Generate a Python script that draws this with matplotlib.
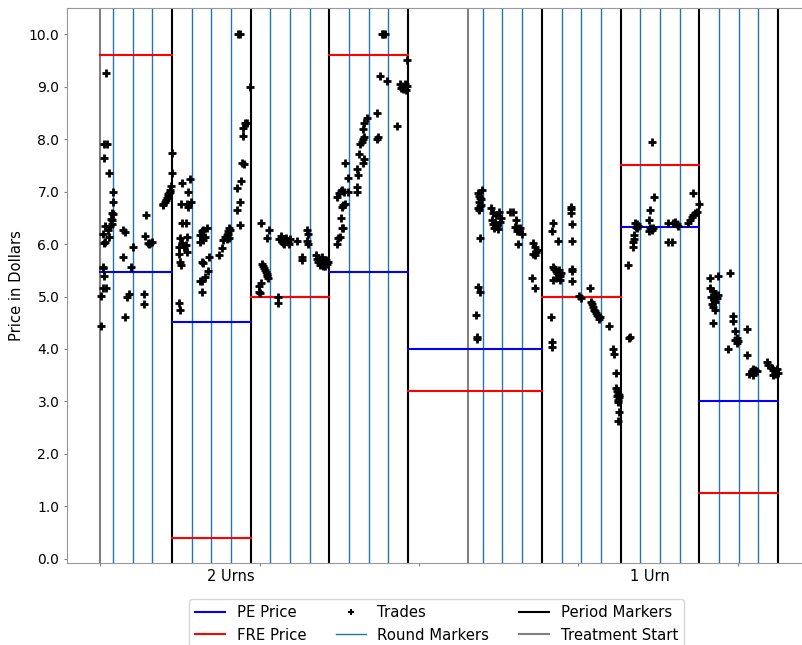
import matplotlib
matplotlib.use("Agg")
import matplotlib.pyplot as plt
from matplotlib.lines import Line2D
from matplotlib.ticker import FormatStrFormatter


### Data (x is in "round" units)

period_starts = [0.34, 4, 8, 12, 16, 22.8, 26.8, 30.8]
period_ends   = [4, 8, 12, 16, 22.8, 26.8, 30.8, 34.8]
pe_price      = [5.47, 4.52, 5.0, 5.47, 4.0, 5.0, 6.33, 3.0]
fre_price     = [9.6, 0.4, 5.0, 9.6, 3.2, 5.0, 7.5, 1.25]

period_markers = [4, 8, 12, 16, 22.8, 26.8, 30.8, 34.8]
round_markers = [1, 2, 3, 5, 6, 7, 9, 10, 11, 13, 14, 15,
                 19.8, 20.8, 21.8, 23.8, 24.8, 25.8, 27.8, 28.8, 29.8, 31.8, 32.8, 33.8]
treatment_starts = [0.34, 19.05]
treatment_names = ["2 Urns", "1 Urn"]
treatment_label_x = [7.0, 28.3]
tick_x = [0.34, 8.45, 16.55, 24.65, 32.75]

trade_x = [
    # period 1
    [0.65, 0.54, 0.68, 0.56, 0.78, 0.99, 0.99, 0.97, 1.02, 0.9, 0.94, 0.61, 0.85, 0.94,
     0.48, 0.76, 0.81, 0.59, 0.54, 0.48, 0.51, 0.54, 0.51, 0.65, 0.41, 0.38,
     1.49, 1.61, 2.0, 1.49, 1.9, 1.7, 1.83, 1.63,
     2.69, 2.64, 2.77, 2.83, 2.9, 2.97, 2.56, 2.56,
     3.54, 3.56, 3.65, 3.7, 3.75, 3.78, 3.81, 3.85, 3.88, 3.91, 3.95, 4.0, 4.0],
    # period 2
    [4.49, 4.92, 4.83, 4.97, 4.46, 4.75, 4.83, 4.49, 4.71, 4.41, 4.78, 4.49, 4.71,
     4.37, 4.61, 4.36, 4.78, 4.41, 4.44, 4.36, 4.41,
     5.58, 5.77, 5.51, 5.42, 5.68, 5.42, 5.59, 5.88, 5.51, 5.59, 5.82, 5.68, 5.51, 5.42, 5.51,
     6.41, 6.54, 6.61, 6.7, 6.78, 6.86, 6.91, 6.8, 6.85, 6.95, 6.9,
     7.29, 7.46, 7.32, 7.49, 7.54, 7.66, 7.6, 7.63, 7.71, 7.83, 7.37, 7.46, 7.97, 7.46],
    # period 3
    [8.54, 8.95, 8.85, 8.56, 8.63, 8.68, 8.73, 8.77, 8.82, 8.85, 8.9, 8.53, 8.42, 8.42, 8.47,
     9.41, 9.41, 9.45, 9.55, 9.6, 9.7, 9.75, 9.8, 9.9, 9.95, 10.0, 9.65,
     10.37, 10.6, 10.6, 10.85, 10.93, 10.85, 10.93,
     11.3, 11.35, 11.4, 11.5, 11.55, 11.6, 11.65, 11.7, 11.75, 11.8, 11.85, 11.9, 11.95,
     11.65, 11.5],
    # period 4
    [12.4, 12.46, 12.54, 12.64, 12.68, 12.58, 12.66, 12.71, 12.8, 12.4, 12.51, 12.58, 12.63,
     12.75, 12.96, 12.96, 12.8,
     13.39, 13.39, 13.47, 13.39, 13.73, 13.78, 13.52, 13.56, 13.65, 13.73, 13.78, 13.7, 13.76, 13.9,
     14.41, 14.44, 14.49, 14.58, 14.66, 14.74, 14.83, 14.95,
     15.42, 15.59, 15.64, 15.7, 15.75, 15.8, 15.85, 15.9, 15.95, 15.96],
    # period 5
    [19.55, 19.6, 19.65, 19.7, 19.6, 19.7, 19.65, 19.55, 19.6, 19.75,
     19.66, 19.57, 19.66, 19.44, 19.49, 19.5,
     20.2, 20.3, 20.45, 20.6, 20.7, 20.25, 20.4, 20.5, 20.35, 20.55, 20.65, 20.3,
     21.18, 21.32, 21.49, 21.44, 21.52, 21.6, 21.65, 21.55, 21.7, 21.78, 21.61,
     22.35, 22.45, 22.56, 22.35, 22.45, 22.5, 22.29, 22.46],
    # period 6
    [23.36, 23.3, 23.6, 23.35, 23.4, 23.5, 23.55, 23.65, 23.7, 23.75, 23.35, 23.7, 23.5,
     23.25, 23.3, 23.3,
     24.27, 24.27, 24.27, 24.32, 24.32, 24.32, 24.32, 24.32, 24.71, 24.78,
     25.24, 25.3, 25.35, 25.4, 25.45, 25.5, 25.55, 25.6, 25.65, 25.7, 25.75,
     26.23, 26.44, 26.47, 26.57, 26.57, 26.62, 26.65, 26.6, 26.7, 26.65, 26.72, 26.68,
     26.73, 26.65],
    # period 7
    [27.19, 27.44, 27.45, 27.48, 27.48, 27.54, 27.63, 27.59, 27.66, 27.71, 27.24, 27.28,
     28.39, 28.52, 28.3, 28.24, 28.3, 28.39, 28.45, 28.25,
     29.2, 29.49, 29.57, 29.66, 29.74, 29.23, 29.4,
     30.23, 30.34, 30.42, 30.5, 30.59, 30.68, 30.81, 30.47],
    # period 8
    [31.35, 31.77, 31.35, 31.5, 31.6, 31.4, 31.55, 31.7, 31.75, 31.6, 31.45, 31.5, 31.6, 31.52,
     32.37, 32.54, 32.54, 32.62, 32.71, 32.62, 32.78, 32.71, 32.28,
     33.22, 33.22, 33.34, 33.47, 33.55, 33.64, 33.72, 33.55,
     34.23, 34.32, 34.49, 34.57, 34.66, 34.74, 34.82, 34.66, 34.57],
]

trade_y = [
    # period 1
    [9.26, 7.9, 7.9, 7.65, 7.35, 7.0, 6.8, 6.6, 6.58, 6.48, 6.45, 6.35, 6.35, 6.38,
     6.2, 6.27, 6.13, 6.04, 6.02, 5.56, 5.54, 5.39, 5.16, 5.16, 5.01, 4.44,
     6.27, 6.23, 5.95, 5.75, 5.57, 5.0, 5.05, 4.6,
     6.55, 6.15, 6.02, 6.0, 6.02, 6.04, 5.05, 4.85,
     6.75, 6.76, 6.8, 6.84, 6.88, 6.92, 6.95, 6.98, 7.0, 7.04, 7.1, 7.35, 7.74],
    # period 2
    [7.16, 7.24, 7.0, 6.8, 6.76, 6.76, 6.71, 6.41, 6.41, 6.11, 6.14, 6.02, 5.98,
     5.95, 5.95, 5.81, 5.85, 5.66, 5.6, 4.87, 4.74,
     6.27, 6.3, 6.25, 6.17, 6.13, 6.04, 6.08, 5.75, 5.65, 5.64, 5.49, 5.38, 5.3, 5.3, 5.09,
     5.79, 5.92, 6.08, 6.13, 6.18, 6.25, 6.3, 6.1, 6.2, 6.27, 6.12,
     6.65, 6.8, 7.06, 7.2, 7.55, 7.52, 8.06, 8.21, 8.3, 8.31, 10.0, 10.0, 9.0, 6.36],
    # period 3
    [6.41, 6.27, 6.11, 5.62, 5.58, 5.55, 5.5, 5.47, 5.43, 5.4, 5.36, 5.26, 5.2, 5.09, 5.07,
     5.0, 4.88, 6.1, 6.15, 6.05, 6.0, 6.08, 6.12, 6.03, 6.0, 6.1, 6.02,
     6.06, 5.76, 5.7, 6.27, 6.2, 6.05, 6.0,
     5.8, 5.72, 5.65, 5.7, 5.62, 5.75, 5.68, 5.6, 5.65, 5.58, 5.7, 5.62, 5.66,
     5.58, 5.6],
    # period 4
    [6.0, 6.12, 6.14, 6.3, 6.3, 6.5, 6.7, 6.74, 6.76, 6.9, 6.98, 7.02, 7.04,
     7.0, 7.0, 7.25, 7.55,
     7.0, 7.09, 7.31, 7.44, 7.54, 7.63, 7.71, 7.9, 7.95, 8.0, 8.04, 8.2, 8.3, 8.4,
     8.49, 8.0, 8.05, 9.2, 10.0, 10.0, 10.0, 9.11,
     8.25, 9.05, 8.98, 9.02, 8.95, 9.0, 9.05, 8.93, 9.02, 9.5],
    # period 5
    [6.98, 6.92, 6.88, 6.85, 6.8, 6.75, 6.72, 6.68, 6.65, 7.03,
     6.11, 5.19, 5.09, 4.65, 4.19, 4.22,
     6.68, 6.6, 6.55, 6.62, 6.5, 6.45, 6.4, 6.35, 6.3, 6.28, 6.42, 6.38,
     6.62, 6.62, 6.46, 6.33, 6.3, 6.28, 6.25, 6.24, 6.3, 6.2, 6.0,
     6.02, 5.95, 5.88, 5.82, 5.8, 5.85, 5.35, 5.16],
    # period 6
    [6.41, 6.25, 6.05, 5.56, 5.52, 5.48, 5.44, 5.5, 5.4, 5.45, 5.31, 5.31, 5.36,
     4.6, 4.14, 4.04,
     6.71, 6.66, 6.6, 6.39, 6.06, 5.52, 5.49, 5.3, 5.01, 4.97,
     5.16, 4.9, 4.85, 4.8, 4.75, 4.72, 4.68, 4.65, 4.62, 4.58, 4.6,
     4.44, 3.99, 3.9, 3.55, 3.25, 3.2, 3.15, 3.1, 3.08, 3.02, 3.12, 2.98,
     2.79, 2.63],
    # period 7
    [5.6, 5.95, 6.03, 6.1, 6.17, 6.4, 6.38, 6.33, 6.3, 6.35, 4.2, 4.22,
     7.95, 6.9, 6.65, 6.46, 6.3, 6.27, 6.3, 6.25,
     6.4, 6.4, 6.42, 6.38, 6.35, 6.04, 6.04,
     6.4, 6.45, 6.52, 6.55, 6.59, 6.62, 6.76, 6.97],
    # period 8
    [5.35, 5.39, 5.16, 5.1, 5.05, 5.0, 4.95, 4.98, 5.02, 4.9, 4.85, 4.8, 4.75, 4.5,
     5.45, 4.62, 4.54, 4.34, 4.21, 4.18, 4.15, 4.12, 3.99,
     4.39, 3.89, 3.52, 3.58, 3.62, 3.6, 3.58, 3.5,
     3.76, 3.7, 3.64, 3.6, 3.55, 3.62, 3.55, 3.52, 3.5],
]


fig = plt.figure(figsize=(8.03, 6.45), dpi=100)
ax = fig.add_axes([67 / 803, 82 / 645, (806 - 67) / 803, 555 / 645])

for i in range(len(period_starts)):
    ax.plot([period_starts[i], period_ends[i]], [pe_price[i], pe_price[i]], color="blue", lw=1.5, zorder=3)
    ax.plot([period_starts[i], period_ends[i]], [fre_price[i], fre_price[i]], color="red", lw=1.5, zorder=3)

for xr in round_markers:
    ax.axvline(xr, color="C0", lw=1, zorder=1)
for xp in period_markers:
    ax.axvline(xp, color="black", lw=1.5, zorder=2)
for xt in treatment_starts:
    ax.axvline(xt, color="gray", lw=1.5, zorder=2)

for px, py in zip(trade_x, trade_y):
    ax.plot(px, py, linestyle="none", marker="+", color="black", ms=6, mew=2, zorder=4)

ax.set_xlim(-1.34, 36.23)
ax.set_ylim(-0.08, 10.5)
ax.set_yticks(range(0, 11))
ax.yaxis.set_major_formatter(FormatStrFormatter("%.1f"))
ax.set_xticks(tick_x)
ax.set_xticklabels([""] * len(tick_x))
ax.set_xticks(treatment_label_x, treatment_names, minor=True)
ax.tick_params(axis="x", which="minor", length=0, pad=4, labelsize=10.5)
ax.tick_params(axis="both", which="major", labelsize=10, length=2.5, pad=3, color="gray")
ax.set_ylabel("Price in Dollars", fontsize=10.6, labelpad=3)
for sp in ax.spines.values():
    sp.set_color("#999999")

handles = [
    Line2D([], [], color="blue", lw=1.5, label="PE Price"),
    Line2D([], [], color="red", lw=1.5, label="FRE Price"),
    Line2D([], [], color="black", marker="+", linestyle="none", ms=5, mew=1.5, label="Trades"),
    Line2D([], [], color="C0", lw=1, label="Round Markers"),
    Line2D([], [], color="black", lw=1.5, label="Period Markers"),
    Line2D([], [], color="gray", lw=1.5, label="Treatment Start"),
]
ax.legend(handles=handles, ncol=3, loc="upper center", bbox_to_anchor=(0.5, -0.052), fontsize=10.7)

fig.savefig("out.png", dpi=100)
